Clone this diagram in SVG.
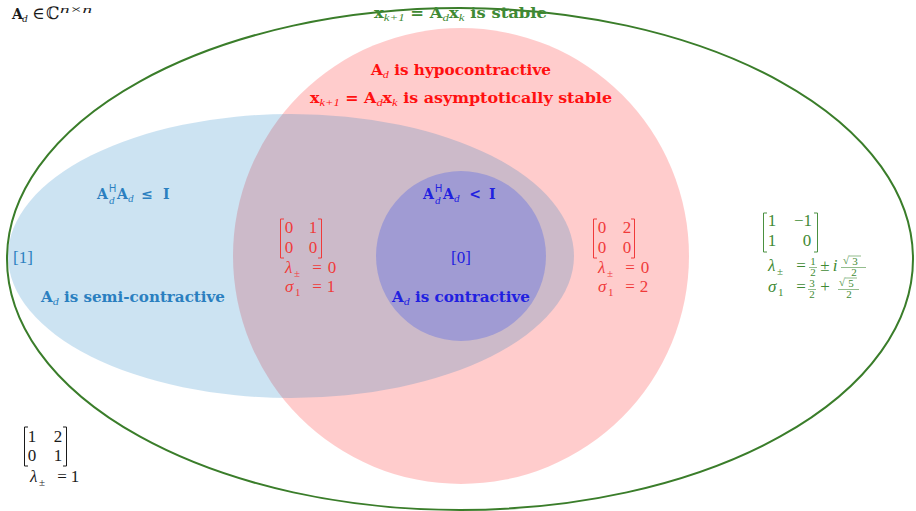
<svg xmlns="http://www.w3.org/2000/svg" width="916" height="511" viewBox="0 0 916 511">
<style>
text{font-family:"Liberation Serif","DejaVu Serif",serif;font-size:17px}
.lb{font-family:"DejaVu Serif","Liberation Serif",serif;font-size:14px;font-weight:bold}
.it{font-style:italic}
.sub{font-family:"Liberation Serif",serif;font-size:11px;font-style:italic;font-weight:normal}
.sup{font-size:10px;font-family:"Liberation Sans",sans-serif;font-weight:normal}
.sm{font-size:11px}
.g{fill:#3f8a34}
.r{fill:#ff1010}
.rl{fill:#f03a3a}
.b{fill:#2a7fc0}
.p{fill:#2020e0}
.k{fill:#1a1a1a}
.brk{fill:none;stroke-width:1}
.fb{stroke-width:0.6}
</style>
<rect width="916" height="511" fill="#fff"/>
<g id="red-circle"><circle cx="461" cy="256" r="228" fill="#ff0000" fill-opacity="0.2"/></g>
<g id="blue-ellipse"><ellipse cx="291" cy="256" rx="283" ry="142" fill="#0072bd" fill-opacity="0.2"/></g>
<g id="purple-circle"><circle cx="461" cy="256" r="85" fill="#a09bd3"/></g>
<g id="green-ellipse"><ellipse cx="460" cy="259" rx="453" ry="251" fill="none" stroke="#3a7d2a" stroke-width="2"/></g>

<g id="label-space">
<text class="k lb" x="12" y="19">A</text>
<text class="k sub" x="22" y="22">d</text>
<text class="k" x="32" y="19">∈</text>
<text class="k" x="46" y="19">ℂ</text>
<text class="k sub" x="60" y="13" font-size="13" textLength="32" lengthAdjust="spacingAndGlyphs">n×n</text>
</g>
<g id="label-stable">
<text class="g lb" x="374" y="18" textLength="173" lengthAdjust="spacingAndGlyphs">x<tspan class="sub" dy="3">k+1</tspan><tspan dy="-3"> = A</tspan><tspan class="sub" dy="3">d</tspan><tspan dy="-3">x</tspan><tspan class="sub" dy="3">k</tspan><tspan dy="-3"> is stable</tspan></text>
</g>
<g id="label-hypo">
<text class="r lb" x="371" y="75" textLength="180" lengthAdjust="spacingAndGlyphs">A<tspan class="sub" dy="3">d</tspan><tspan dy="-3"> is hypocontractive</tspan></text>
<text class="r lb" x="310" y="103" textLength="302" lengthAdjust="spacingAndGlyphs">x<tspan class="sub" dy="3">k+1</tspan><tspan dy="-3"> = A</tspan><tspan class="sub" dy="3">d</tspan><tspan dy="-3">x</tspan><tspan class="sub" dy="3">k</tspan><tspan dy="-3"> is asymptotically stable</tspan></text>
</g>
<g id="label-semi">
<text class="b lb" x="97" y="199">A</text>
<text class="b sup" x="109" y="192">H</text>
<text class="b sub" x="109" y="204">d</text>
<text class="b lb" x="117" y="199">A</text>
<text class="b sub" x="128" y="202">d</text>
<text class="b lb" x="147" y="199" text-anchor="middle">≤</text>
<text class="b lb" x="163" y="199">I</text>
<text class="b" x="13" y="263">[1]</text>
<text class="b lb" x="41" y="302" textLength="184" lengthAdjust="spacingAndGlyphs">A<tspan class="sub" dy="3">d</tspan><tspan dy="-3"> is semi-contractive</tspan></text>
</g>
<g id="label-contr">
<text class="p lb" x="423" y="199">A</text>
<text class="p sup" x="435" y="192">H</text>
<text class="p sub" x="435" y="204">d</text>
<text class="p lb" x="443" y="199">A</text>
<text class="p sub" x="454" y="202">d</text>
<text class="p lb" x="475" y="199" text-anchor="middle">&lt;</text>
<text class="p lb" x="489" y="199">I</text>
<text class="p" x="461" y="263" text-anchor="middle">[0]</text>
<text class="p lb" x="392" y="302" textLength="138" lengthAdjust="spacingAndGlyphs">A<tspan class="sub" dy="3">d</tspan><tspan dy="-3"> is contractive</tspan></text>
</g>

<g id="ex-red-left">
<path class="brk" stroke="#f03a3a" d="M284,219H280.5V258H284M318,219H321.5V258H318"/>
<text class="rl" x="289" y="233" text-anchor="middle">0</text>
<text class="rl" x="313" y="233" text-anchor="middle">1</text>
<text class="rl" x="289" y="253" text-anchor="middle">0</text>
<text class="rl" x="313" y="253" text-anchor="middle">0</text>
<text class="rl it" x="285" y="273">λ</text>
<text class="rl sm" x="294" y="277">±</text>
<text class="rl" x="317" y="273" text-anchor="middle">=</text>
<text class="rl" x="332" y="273" text-anchor="middle">0</text>
<text class="rl it" x="285" y="292">σ</text>
<text class="rl sm" x="295" y="296">1</text>
<text class="rl" x="317" y="292" text-anchor="middle">=</text>
<text class="rl" x="331" y="292" text-anchor="middle">1</text>
</g>
<g id="ex-red-right">
<path class="brk" stroke="#f03a3a" d="M597,219H593.5V258H597M631,219H634.5V258H631"/>
<text class="rl" x="602" y="233" text-anchor="middle">0</text>
<text class="rl" x="627" y="233" text-anchor="middle">2</text>
<text class="rl" x="602" y="253" text-anchor="middle">0</text>
<text class="rl" x="627" y="253" text-anchor="middle">0</text>
<text class="rl it" x="598" y="273">λ</text>
<text class="rl sm" x="607" y="277">±</text>
<text class="rl" x="630" y="273" text-anchor="middle">=</text>
<text class="rl" x="645" y="273" text-anchor="middle">0</text>
<text class="rl it" x="598" y="292">σ</text>
<text class="rl sm" x="608" y="296">1</text>
<text class="rl" x="630" y="292" text-anchor="middle">=</text>
<text class="rl" x="644" y="292" text-anchor="middle">2</text>
</g>
<g id="ex-green">
<path class="brk" stroke="#4a9040" d="M767,213H763.5V252H767M814,213H817.5V252H814"/>
<text class="g" x="772" y="226" text-anchor="middle">1</text>
<text class="g" x="803" y="226" text-anchor="middle">−1</text>
<text class="g" x="772" y="246" text-anchor="middle">1</text>
<text class="g" x="807" y="246" text-anchor="middle">0</text>
<text class="g it" x="768" y="271">λ</text>
<text class="g sm" x="777" y="275">±</text>
<text class="g" x="801" y="271" text-anchor="middle">=</text>
<text class="g sm" x="813" y="265" text-anchor="middle">1</text>
<path class="fb" d="M809,267.5H817" stroke="#4a9040"/>
<text class="g sm" x="813" y="276" text-anchor="middle">2</text>
<text class="g" x="825" y="271" text-anchor="middle">±</text>
<text class="g it" x="835" y="271" text-anchor="middle">i</text>
<text class="g sm" x="843" y="264">√</text>
<text class="g sm" x="855" y="265" text-anchor="middle">3</text>
<path class="fb" d="M849,256H861" stroke="#4a9040"/>
<path class="fb" d="M841,267.5H866" stroke="#4a9040"/>
<text class="g sm" x="854" y="276" text-anchor="middle">2</text>
<text class="g it" x="768" y="292">σ</text>
<text class="g sm" x="778" y="296">1</text>
<text class="g" x="801" y="292" text-anchor="middle">=</text>
<text class="g sm" x="812" y="287" text-anchor="middle">3</text>
<path class="fb" d="M808,289.5H816" stroke="#4a9040"/>
<text class="g sm" x="812" y="298" text-anchor="middle">2</text>
<text class="g" x="825" y="292" text-anchor="middle">+</text>
<text class="g sm" x="839" y="286">√</text>
<text class="g sm" x="851" y="287" text-anchor="middle">5</text>
<path class="fb" d="M845,278H857" stroke="#4a9040"/>
<path class="fb" d="M838,289.5H859" stroke="#4a9040"/>
<text class="g sm" x="849" y="298" text-anchor="middle">2</text>
</g>
<g id="ex-black">
<path class="brk" stroke="#1a1a1a" d="M28,427H24.5V466H28M63,427H66.5V466H63"/>
<text class="k" x="32" y="442" text-anchor="middle">1</text>
<text class="k" x="58" y="442" text-anchor="middle">2</text>
<text class="k" x="32" y="461" text-anchor="middle">0</text>
<text class="k" x="58" y="461" text-anchor="middle">1</text>
<text class="k it" x="30" y="482">λ</text>
<text class="k sm" x="39" y="486">±</text>
<text class="k" x="62" y="482" text-anchor="middle">=</text>
<text class="k" x="75" y="482" text-anchor="middle">1</text>
</g>
<g id="connectors"></g>
</svg>
